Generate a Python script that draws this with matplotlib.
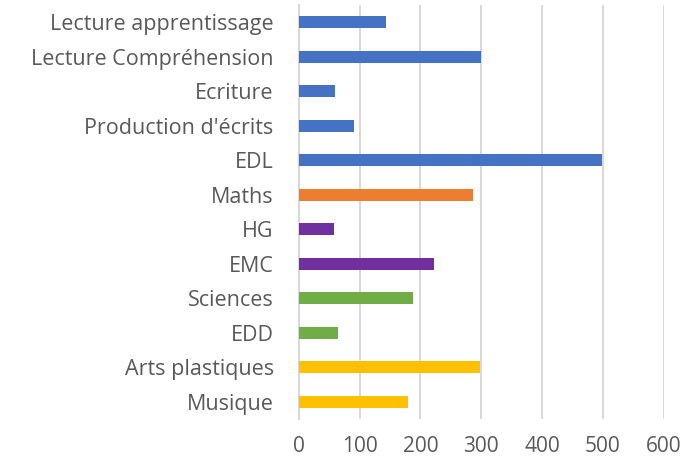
import matplotlib
matplotlib.use("Agg")
import matplotlib.pyplot as plt

categories = ["Lecture apprentissage", "Lecture Compréhension", "Ecriture",
              "Production d'écrits", "EDL", "Maths", "HG", "EMC", "Sciences",
              "EDD", "Arts plastiques", "Musique"]
values = [143, 300, 60, 91, 498, 286, 58, 222, 188, 65, 298, 180]
colors = ["#4472C4", "#4472C4", "#4472C4", "#4472C4", "#4472C4", "#ED7D31",
          "#7030A0", "#7030A0", "#70AD47", "#70AD47", "#FFC000", "#FFC000"]
xticks = [0, 100, 200, 300, 400, 500, 600]

plt.rcParams['font.family'] = ['Open Sans', 'DejaVu Sans']

fig = plt.figure(figsize=(6.84, 4.61), dpi=100)
ax = fig.add_axes([0.4367, 0.0911, 0.9703 - 0.4367, 0.989 - 0.0911])

y = list(range(len(categories)))
ax.barh(y, values, height=0.35, color=colors, zorder=3)
ax.set_yticks(y)
ax.set_yticklabels(categories)
ax.set_ylim(len(categories) - 0.5, -0.5)
ax.set_xlim(0, 600)
ax.set_xticks(xticks)
ax.set_xticklabels([str(v) for v in xticks])

ax.grid(axis='x', color='#D9D9D9', linewidth=1.5, zorder=0)
for s in ['top', 'right', 'bottom']:
    ax.spines[s].set_visible(False)
ax.spines['left'].set_color('#D9D9D9')
ax.spines['left'].set_linewidth(1.5)
ax.tick_params(axis='both', length=0, colors='#595959')
ax.tick_params(axis='y', pad=18, labelsize=15.5)
ax.tick_params(axis='x', pad=12, labelsize=15)

fig.savefig("out.png", dpi=100)
